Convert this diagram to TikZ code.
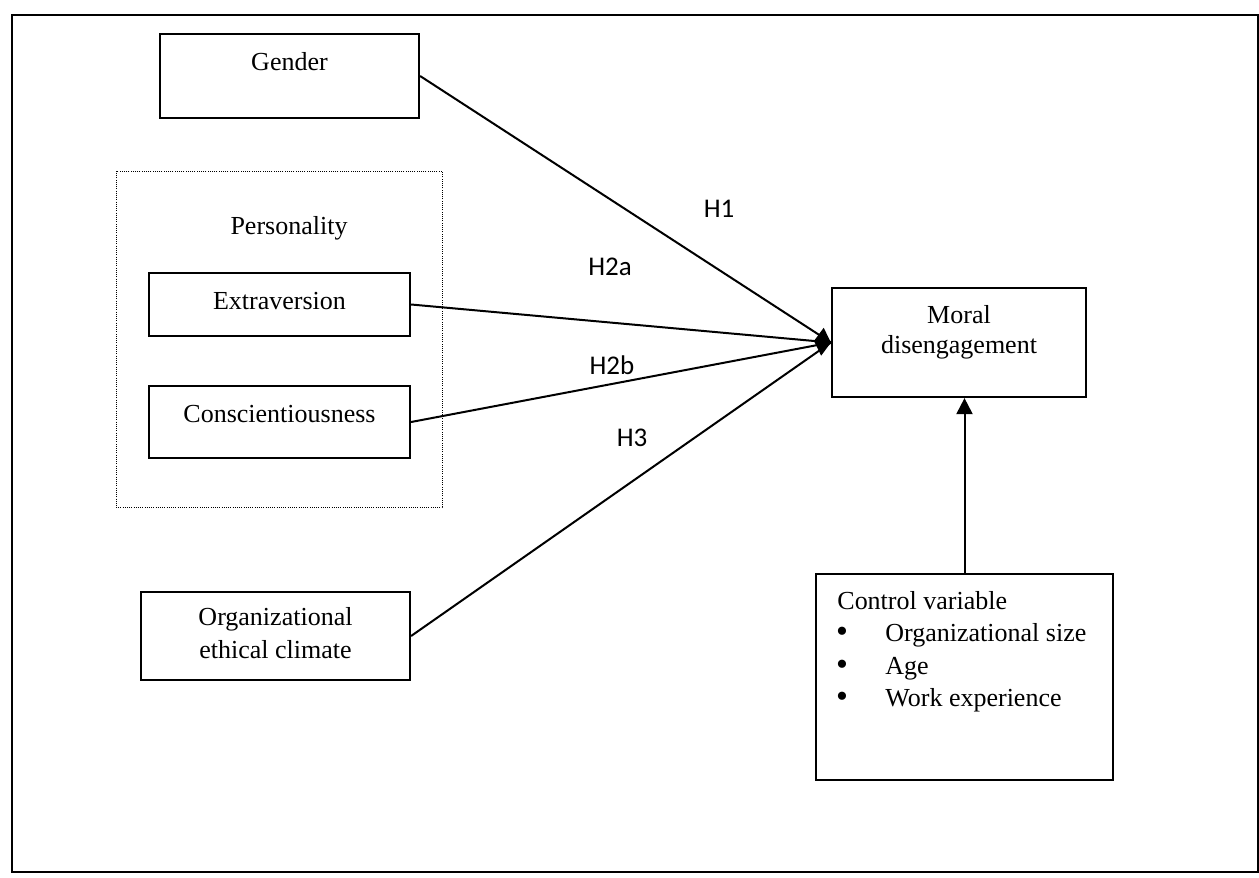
\documentclass[tikz,border=0pt]{standalone}
\usepackage{fontspec}
\setmainfont{Liberation Serif}
\newfontfamily\hfont{Carlito}
\usetikzlibrary{arrows.meta,fit}
\begin{document}
\begin{tikzpicture}[x=0.5pt,y=-0.5pt,
  frame/.style={draw, line width=1pt, inner sep=0pt},
  boxnode/.style={draw, line width=1.1pt, inner sep=0pt},
  dotbox/.style={draw, line width=0.5pt, dash pattern=on 0.5pt off 0.6pt, inner sep=0pt},
  txt/.style={anchor=base, inner sep=0pt, font=\fontsize{13}{16}\selectfont},
  ltxt/.style={anchor=base west, inner sep=0pt, font=\fontsize{13}{16}\selectfont},
  bul/.style={anchor=base, inner sep=0pt, text height=9pt, text depth=0pt, font=\fontsize{17}{17}\selectfont},
  hlab/.style={inner sep=0pt, font=\hfont\fontsize{13.5}{16}\selectfont},
  conn/.style={line width=1pt},
  dtip/.style={-{Diamond[length=8.5pt,width=14pt]}},
  utip/.style={-{Triangle[length=8pt,width=8pt]}}
]
\useasboundingbox (0,0) rectangle (1259,878);
\node[frame, fit={(12,15)(1258,872)}] (outer) {};

% boxes
\node[boxnode, fit={(160,34)(419,118)}] (gender) {};
\node[dotbox, fit={(116,171)(442,507)}] (pers) {};
\node[boxnode, fit={(149,273)(410,336)}] (extra) {};
\node[boxnode, fit={(149,386)(410,458)}] (consc) {};
\node[boxnode, fit={(141,592)(410,680)}] (org) {};
\node[boxnode, fit={(832,288)(1086,397)}] (moral) {};
\node[boxnode, fit={(816,574)(1113,780)}] (control) {};

% texts
\node[txt] (tgender) at (289.5,70) {Gender};
\node[txt] (tpers) at (289,234) {Personality};
\node[txt] (textra) at (279.5,309) {Extraversion};
\node[txt] (tconsc) at (279.5,422) {Conscientiousness};
\node[txt] (torg1) at (275.5,625) {Organizational};
\node[txt] (torg2) at (275.5,658) {ethical climate};
\node[txt] (tmor1) at (959,323) {Moral};
\node[txt] (tmor2) at (959,353) {disengagement};
\node[ltxt] (tcv) at (837,609) {Control variable};
\node[bul] (b1) at (842,642) {\textbullet};
\node[bul] (b2) at (842,675) {\textbullet};
\node[bul] (b3) at (842,707) {\textbullet};
\node[ltxt] (c1) at (885,641) {Organizational size};
\node[ltxt] (c2) at (885,674) {Age};
\node[ltxt] (c3) at (885,706) {Work experience};

% hypothesis labels
\node[hlab] (h1) at (719,209) {H1};
\node[hlab] (h2a) at (610,267) {H2a};
\node[hlab] (h2b) at (612,365) {H2b};
\node[hlab] (h3) at (632,438) {H3};

% connectors
\draw[conn] (gender.east) -- (moral.west);
\draw[conn] (consc.east) -- (moral.west);
\draw[conn] (org.east) -- (moral.west);
\draw[conn, dtip] (extra.east) -- (moral.west);
\draw[conn, utip] (control.north) -- (control.north |- moral.south);
\end{tikzpicture}
\end{document}
